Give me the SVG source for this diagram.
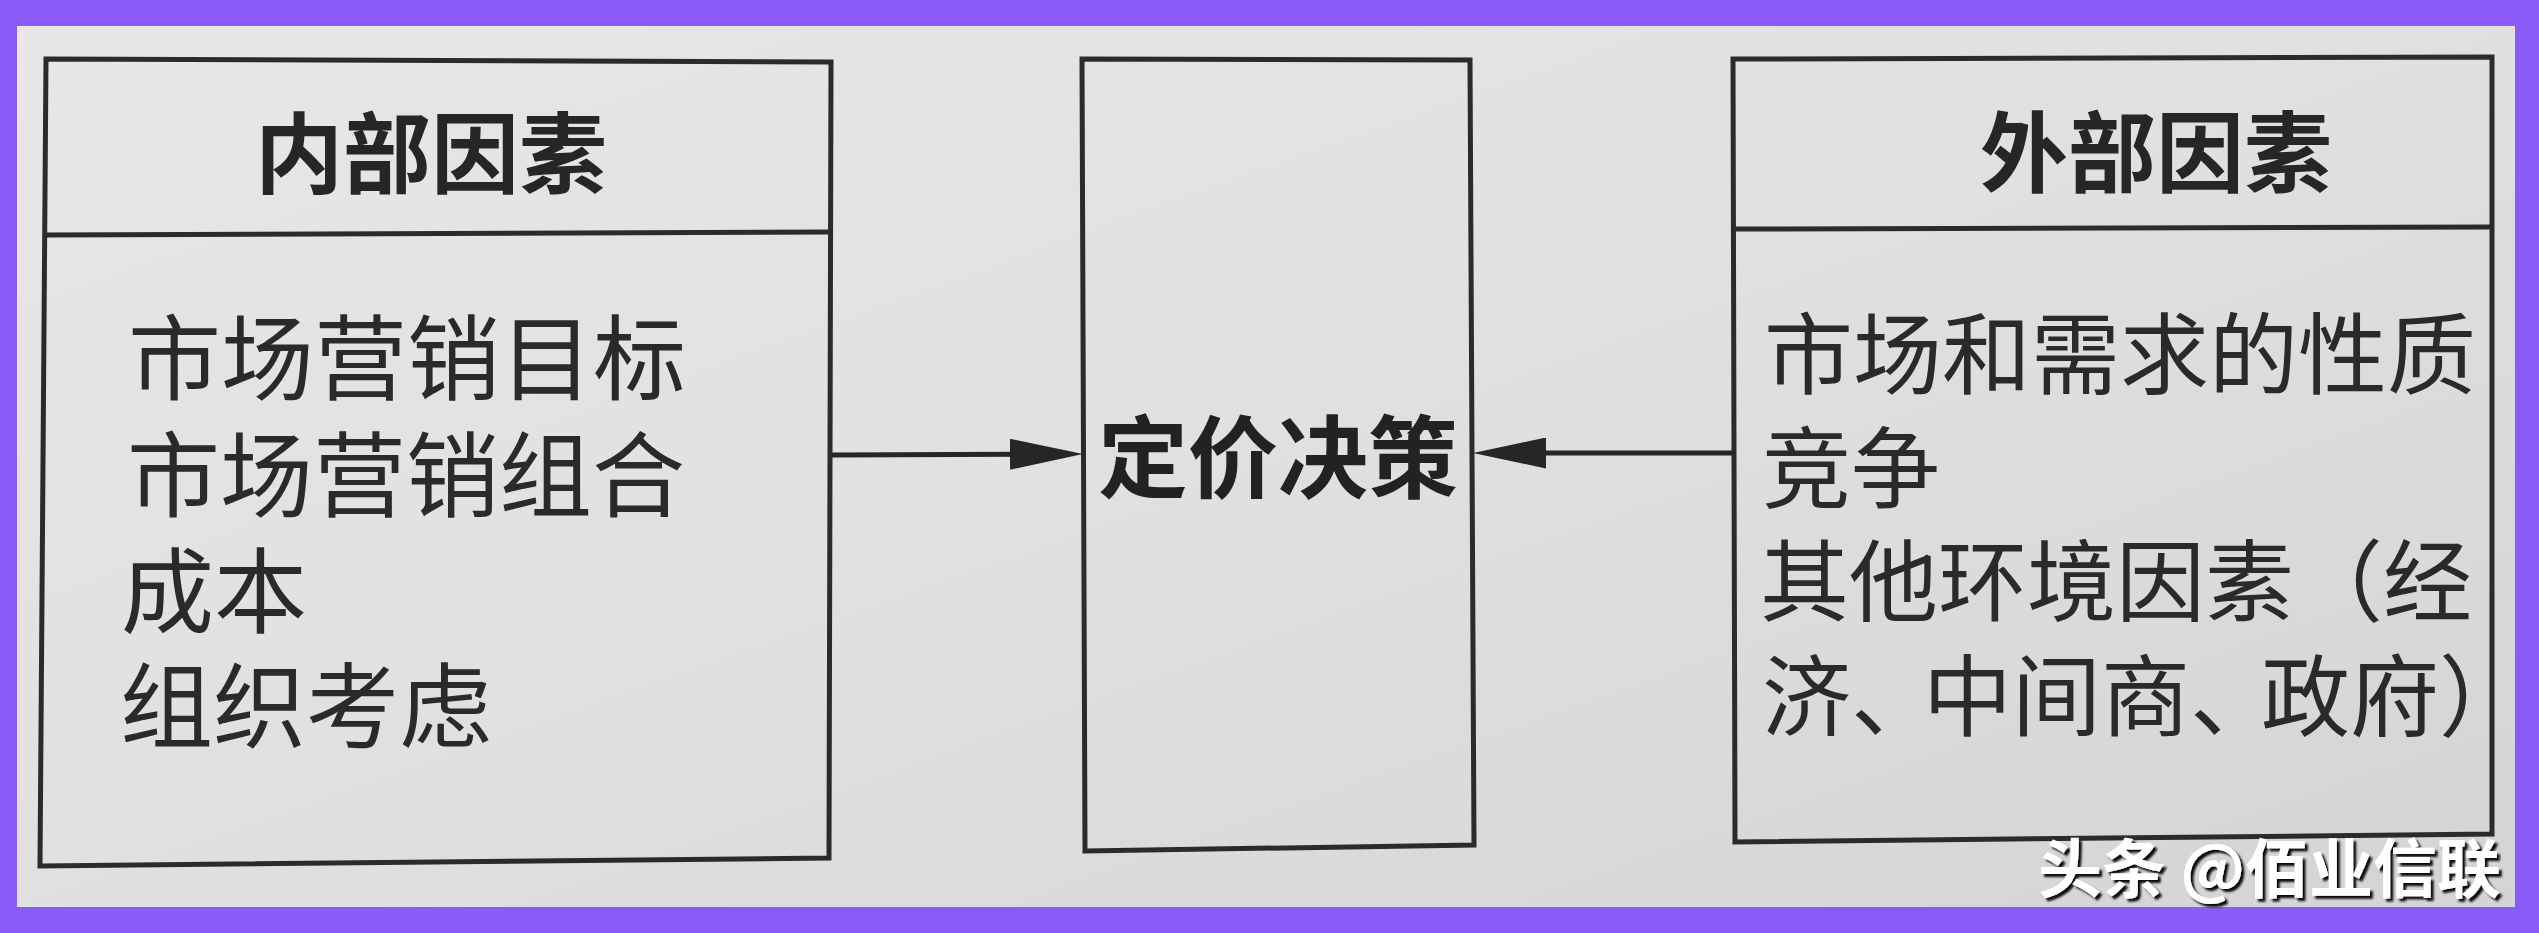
<svg xmlns="http://www.w3.org/2000/svg" width="2539" height="933" viewBox="0 0 2539 933">
<style>
.box{fill:none;stroke:#2b2b2b;stroke-width:5;stroke-linejoin:miter}
.div{stroke:#2b2b2b;stroke-width:5}
.hdr{font-family:"Noto Sans CJK SC","Noto Sans CJK TC",sans-serif;font-weight:700;font-size:88px;fill:#262626;text-anchor:middle}
.mid{font-family:"Noto Sans CJK SC","Noto Sans CJK TC",sans-serif;font-weight:700;font-size:90px;fill:#222;text-anchor:middle}
.bodyL{font-family:"Noto Sans CJK SC","Noto Sans CJK TC",sans-serif;font-size:93px;fill:#2a2a2a}
.bodyR{font-family:"Noto Sans CJK SC","Noto Sans CJK TC",sans-serif;font-size:89px;fill:#2a2a2a}
.conn{stroke:#262626;stroke-width:5;fill:none}
.wm{font-family:"Noto Sans CJK SC","Noto Sans CJK TC",sans-serif;font-weight:700;font-size:64px;fill:#ffffff}
</style>
<defs>
<linearGradient id="paper" x1="0" y1="0" x2="1" y2="1">
<stop offset="0" stop-color="#e7e7e8"/>
<stop offset="0.5" stop-color="#e0e0e0"/>
<stop offset="1" stop-color="#d4d4d4"/>
</linearGradient>
<marker id="arrow" viewBox="0 0 73 31" refX="58" refY="15.5" markerWidth="73" markerHeight="31" markerUnits="userSpaceOnUse" orient="auto">
<path d="M0,0 L73,15.5 L0,31 Z" fill="#262626"/>
</marker>
<filter id="shadow" x="-5%" y="-20%" width="110%" height="140%">
<feDropShadow dx="3" dy="3" stdDeviation="1.2" flood-color="#000" flood-opacity="0.95"/>
</filter>
</defs>

<rect x="0" y="0" width="2539" height="933" fill="#8b5bf8"/>
<rect x="17" y="26" width="2498" height="881" fill="url(#paper)"/>

<g id="node-internal">
<polygon class="box" points="46,59 831,62 829,858 40,866"/>
<line class="div" x1="45" y1="235" x2="831" y2="232"/>
<text class="hdr" x="431" y="186">内部因素</text>
<text class="bodyL"><tspan x="128" y="393">市场营销目标</tspan><tspan x="127" y="510">市场营销组合</tspan><tspan x="121" y="626">成本</tspan><tspan x="120" y="741">组织考虑</tspan></text>
</g>

<g id="node-decision">
<polygon class="box" points="1082,59 1470,60 1474,845 1085,851"/>
<text class="mid" x="1278" y="491">定价决策</text>
</g>

<g id="node-external">
<polygon class="box" points="1733,59 2492,57 2492,834 1735,842"/>
<line class="div" x1="1733" y1="229" x2="2492" y2="227"/>
<text class="hdr" x="2156" y="185">外部因素</text>
<text class="bodyR"><tspan x="1764" y="387">市场和需求的性质</tspan><tspan x="1762" y="501">竞争</tspan><tspan x="1760" y="614">其他环境因素（经</tspan><tspan x="1762" y="729">济、</tspan><tspan x="1923" y="729">中间商、</tspan><tspan x="2261" y="729">政府）</tspan></text>
</g>

<g id="connectors">
<line class="conn" x1="832" y1="455" x2="1068" y2="454" marker-end="url(#arrow)"/>
<line class="conn" x1="1734" y1="453" x2="1488" y2="453" marker-end="url(#arrow)"/>
</g>

<text class="wm" x="2038" y="892" filter="url(#shadow)">头条 @佰业信联</text>
</svg>
